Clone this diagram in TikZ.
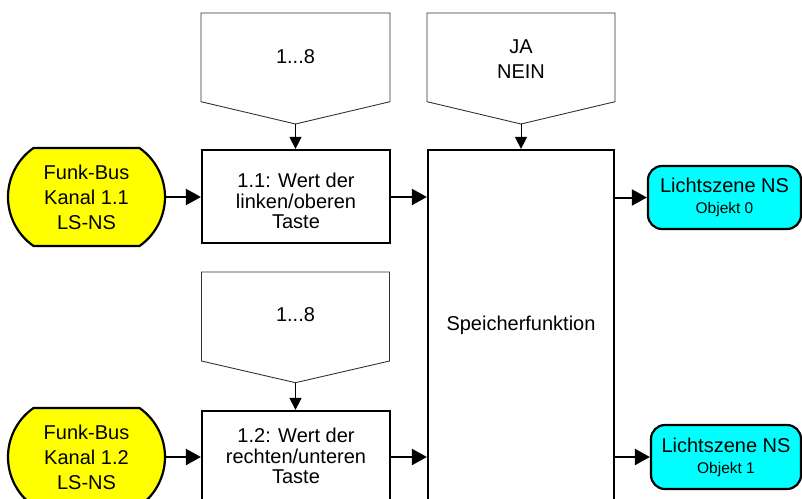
\documentclass[tikz,border=0pt]{standalone}
\usepackage{fontspec}
\setmainfont{Liberation Sans}
\usetikzlibrary{arrows.meta,shapes.misc}
\definecolor{busyellow}{RGB}{255,255,0}
\definecolor{objcyan}{RGB}{0,255,255}
\begin{document}
\begin{tikzpicture}[x=1pt,y=-1pt,
  procbox/.style={draw,line width=2.2pt,inner sep=0pt},
  proctext/.style={align=center,inner sep=0pt,font=\fontsize{20}{20.5}\selectfont},
  busnode/.style={draw,line width=2.2pt,fill=busyellow,rounded rectangle,
    rounded rectangle arc length=110,align=center,inner sep=0pt,
    minimum width=157pt,minimum height=98pt,font=\fontsize{20}{25}\selectfont},
  objnode/.style={draw,line width=2.2pt,fill=objcyan,rounded corners=14pt,
    align=center,inner sep=0pt,font=\fontsize{20}{24}\selectfont},
  pent/.style={draw=black!80,line width=0.9pt},
  pentext/.style={align=center,inner sep=0pt,font=\fontsize{20}{25}\selectfont},
  thinarrow/.style={draw,line width=0.9pt,-{Triangle[length=12pt,width=12pt]}},
  thickarrow/.style={draw,line width=2pt,-{Triangle[length=15pt,width=16pt]}}
]
\useasboundingbox (0,0) rectangle (802,498);
\clip (0,0) rectangle (802,498);

% parameter pentagons
\draw[pent] (201,13) -- (390,13) -- (390,101.7) -- (295.5,124) -- (201,101.7) -- cycle;
\coordinate (p1) at (295.5,124);
\node[pentext] (t1) at (295.5,57) {1...8};

\draw[pent] (427,13) -- (615,13) -- (615,101.7) -- (521,124) -- (427,101.7) -- cycle;
\coordinate (p3) at (521,124);
\node[pentext] (t3) at (521,59.5) {JA\\NEIN};

\draw[pent] (201.5,272) -- (389.5,272) -- (389.5,361) -- (295.5,382.7) -- (201.5,361) -- cycle;
\coordinate (p2) at (295.5,382.7);
\node[pentext] (t2) at (295.5,315) {1...8};

% process boxes
\node[procbox,minimum width=188pt,minimum height=93pt] (b1) at (296,196.5) {};
\node[proctext] (b1t) at (296,201) {1.1: Wert der\\linken/oberen\\Taste};
\node[procbox,minimum width=188pt,minimum height=93pt] (b2) at (296,457.5) {};
\node[proctext] (b2t) at (296,456) {1.2: Wert der\\rechten/unteren\\Taste};
\node[procbox,minimum width=186pt,minimum height=350pt] (sp) at (521,325) {};
\node[pentext] (spt) at (521,325) {Speicherfunktion};

% inputs
\node[busnode] (y1) at (86.5,197) {Funk-Bus\\Kanal 1.1\\LS-NS};
\node[busnode] (y2) at (86.5,457) {Funk-Bus\\Kanal 1.2\\LS-NS};

% outputs
\node[objnode,minimum width=153pt,minimum height=63pt] (c1) at (724.5,197.5)
  {Lichtszene NS\\[-3pt]{\fontsize{15.5}{18}\selectfont Objekt 0}};
\node[objnode,minimum width=150pt,minimum height=64pt] (c2) at (726,457)
  {Lichtszene NS\\[-3pt]{\fontsize{15.5}{18}\selectfont Objekt 1}};

% connectors
\draw[thinarrow] (p1) -- (p1 |- b1.north);
\draw[thinarrow] (p2) -- (p2 |- b2.north);
\draw[thinarrow] (p3) -- (p3 |- sp.north);

\draw[thickarrow] (y1.east) -- (b1.west |- y1.east);
\draw[thickarrow] (y2.east) -- (b2.west |- y2.east);
\draw[thickarrow] (b1.east |- y1.east) -- (sp.west |- y1.east);
\draw[thickarrow] (b2.east |- y2.east) -- (sp.west |- y2.east);
\draw[thickarrow] (sp.east |- c1.west) -- (c1.west);
\draw[thickarrow] (sp.east |- c2.west) -- (c2.west);
\end{tikzpicture}
\end{document}
